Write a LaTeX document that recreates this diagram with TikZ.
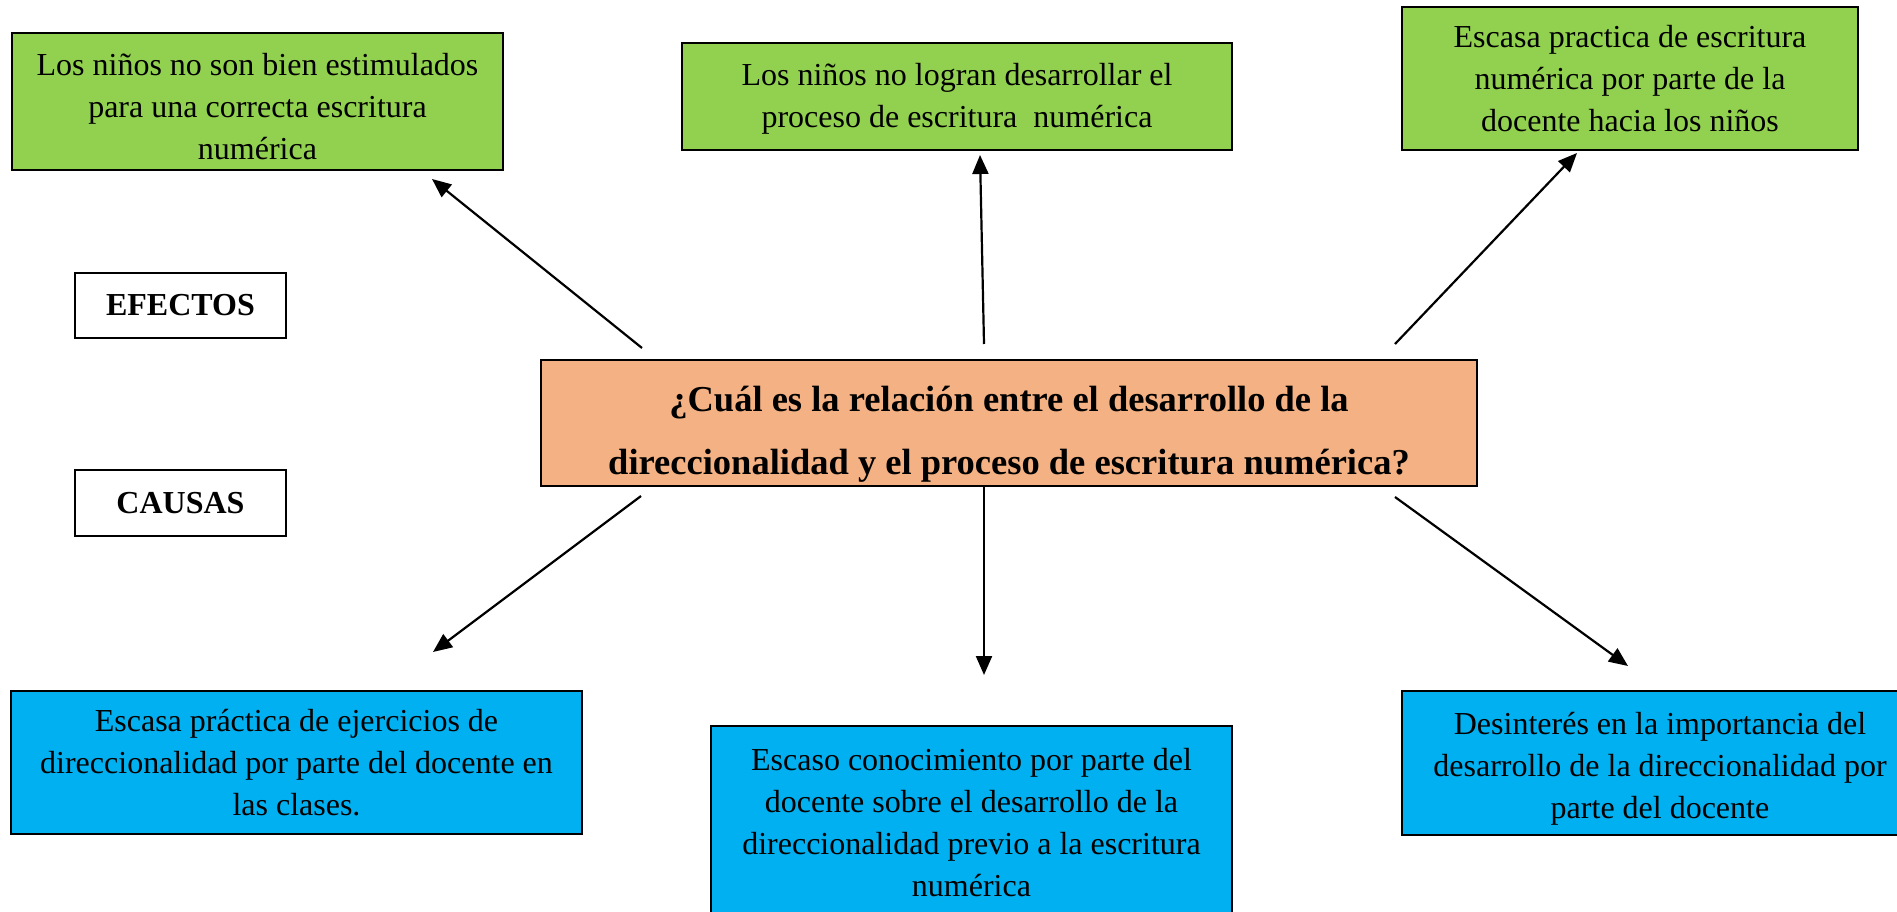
\documentclass[tikz,border=0pt]{standalone}
\usepackage{fontspec}
\setmainfont{Liberation Serif}
\usetikzlibrary{arrows.meta}
\definecolor{efgreen}{HTML}{92D050}
\definecolor{qorange}{HTML}{F4B183}
\definecolor{cablue}{HTML}{00B0F0}
\begin{document}
\begin{tikzpicture}[x=1pt,y=-1pt,
  box/.style={draw=black, line width=1.5pt, inner sep=0pt, align=center,
    font=\fontsize{32}{42}\selectfont},
  labelbox/.style={box, font=\fontsize{32}{42}\selectfont\bfseries},
  qbox/.style={box, fill=qorange, font=\fontsize{36.5}{63}\selectfont\bfseries},
  arr/.style={line width=2.2pt, -{Triangle[length=19pt,width=16pt]}}
]
\useasboundingbox (0,0) rectangle (1897,912);
\clip (0,0) rectangle (1897,912);
\fill[white] (0,0) rectangle (1897,912);

% effects
\node[box, fill=efgreen, minimum width=491pt, minimum height=137pt] (e1) at (257.5,101.5)
  {\rule{0pt}{32pt}Los niños no son bien estimulados\\para una correcta escritura\\numérica};
\node[box, fill=efgreen, minimum width=550pt, minimum height=107pt] (e2) at (957,96.5)
  {\rule{0pt}{27pt}Los niños no logran desarrollar el\\proceso de escritura\ \ numérica};
\node[box, fill=efgreen, minimum width=456pt, minimum height=143pt] (e3) at (1630,78.5)
  {Escasa practica de escritura\\numérica por parte de la\\docente hacia los niños};

% labels
\node[labelbox, minimum width=211pt, minimum height=65pt] (efectos) at (180.5,305.5) {EFECTOS};
\node[labelbox, minimum width=211pt, minimum height=66pt] (causas) at (180.5,503) {CAUSAS};

% central question
\node[qbox, minimum width=936pt, minimum height=126pt] (q) at (1009,423)
  {\rule{0pt}{48pt}¿Cuál es la relación entre el desarrollo de la\\direccionalidad y el proceso de escritura numérica?};

% causes
\node[box, fill=cablue, minimum width=571pt, minimum height=143pt] (c1) at (296.5,762.5)
  {Escasa práctica de ejercicios de\\direccionalidad por parte del docente en\\las clases.};
\node[box, fill=cablue, minimum width=521pt, minimum height=190pt] (c2) at (971.5,821)
  {\rule{0pt}{26pt}Escaso conocimiento por parte del\\docente sobre el desarrollo de la\\direccionalidad previo a la escritura\\numérica};
\node[box, fill=cablue, minimum width=516pt, minimum height=144pt] (c3) at (1660,763)
  {\rule{0pt}{33pt}Desinterés en la importancia del\\desarrollo de la direccionalidad por\\parte del docente};

% arrow end points
\coordinate (a1s) at (642,348);  \coordinate (a1e) at (432,179);
\coordinate (a2s) at (984,344);  \coordinate (a2e) at (980,155);
\coordinate (a3s) at (1395,344); \coordinate (a3e) at (1577,153);
\coordinate (a4s) at (641,496);  \coordinate (a4e) at (433,652);
\coordinate (a5s) at (984,486);  \coordinate (a5e) at (984,675);
\coordinate (a6s) at (1395,497); \coordinate (a6e) at (1628,666);

\draw[arr] (a1s) -- (a1e);
\draw[arr] (a2s) -- (a2e);
\draw[arr] (a3s) -- (a3e);
\draw[arr] (a4s) -- (a4e);
\draw[arr] (a5s) -- (a5e);
\draw[arr] (a6s) -- (a6e);
\end{tikzpicture}
\end{document}
